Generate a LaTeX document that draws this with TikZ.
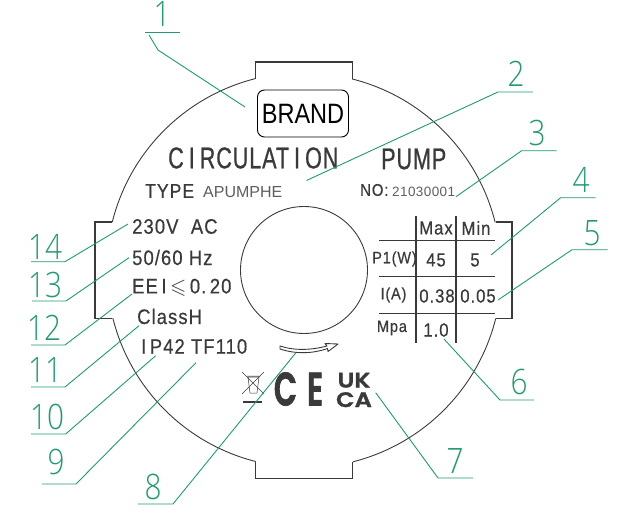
\documentclass[tikz,border=0pt]{standalone}
\usepackage{fontspec}
\usepackage{amssymb}
\setmainfont{Liberation Sans}
\newfontfamily\cadfont[FakeStretch=0.88,LetterSpace=5,FakeBold=0.5]{Liberation Sans}
\newfontfamily\titlefont[FakeStretch=0.72,LetterSpace=3,FakeBold=0.7]{Liberation Sans}
\newfontfamily\brandfont[FakeStretch=0.84]{Liberation Sans}
\newfontfamily\plainfont[LetterSpace=3]{Liberation Sans}
\newfontfamily\numfont[FakeStretch=0.85]{Open Sans Light}
\newfontfamily\markfont[FakeStretch=0.64,FakeBold=1.5]{Poppins SemiBold}
\newfontfamily\ukfont[FakeStretch=1.15,FakeBold=1.2]{Poppins SemiBold}
\definecolor{leadgreen}{HTML}{1F9B6E}
\definecolor{inkgrey}{HTML}{3A3A3A}
\definecolor{softgrey}{HTML}{5E5E5E}
\tikzset{
  body/.style={draw=inkgrey, line width=0.9pt},
  tabline/.style={draw=inkgrey, line width=1.2pt},
  leader/.style={draw=leadgreen, line width=0.9pt},
  num/.style={text=leadgreen, font=\numfont\fontsize{35}{35}\selectfont, inner sep=0pt},
  cad/.style={text=inkgrey, font=\cadfont\fontsize{21}{21}\selectfont, inner sep=0pt},
  cell/.style={text=inkgrey, font=\cadfont\fontsize{19}{19}\selectfont, inner sep=0pt},
  small/.style={text=inkgrey, font=\cadfont\fontsize{16.5}{16.5}\selectfont, inner sep=0pt}
}
\begin{document}
\begin{tikzpicture}[x=1pt,y=-1pt]
  \useasboundingbox (0,0) rectangle (638,511);

  % body with its four tabs
  \coordinate (hub) at (304,270);
  \draw[tabline] (255.7,79) -- (255.7,62) -- (352.3,62) -- (352.3,79);
  \draw[tabline] (495.7,222) -- (512,222) -- (512,318.5) -- (495.7,318.5);
  \draw[tabline] (255.7,461.5) -- (255.7,478.5) -- (352.3,478.5) -- (352.3,461.5);
  \draw[tabline] (112.3,222) -- (95,222) -- (95,318.5) -- (112.3,318.5);
  \draw[body] (352.3,79) arc (-75.8:-14:197);
  \draw[body] (495.7,318.5) arc (14:75.8:197);
  \draw[body] (255.7,461.5) arc (104.2:166:197);
  \draw[body] (112.3,222) arc (194:255.8:197);
  \draw[body] (hub) circle (63.5);

  \node[draw=black, line width=0.9pt, rounded corners=7pt, minimum width=91pt, minimum height=47pt, inner sep=0pt,
    font=\brandfont\fontsize{28}{28}\selectfont] (brand) at (303,113.5) {BRAND};

  % printed texts
  \node[cad, font=\titlefont\fontsize{30}{30}\selectfont, anchor=west] (title) at (168,158) {C\,I\,RCULAT\,I\,ON};
  \node[cad, font=\titlefont\fontsize{30}{30}\selectfont, anchor=west] (pump) at (381,159) {PUMP};
  \node[cad, font=\cadfont\fontsize{20}{20}\selectfont, anchor=west] (type) at (145,191) {TYPE};
  \node[text=softgrey, font=\fontsize{16}{16}\selectfont, anchor=west, inner sep=0pt] (model) at (203,192) {APUMPHE};
  \node[cad, font=\cadfont\fontsize{17}{17}\selectfont, anchor=west] (no) at (360,190) {NO:};
  \node[text=softgrey, font=\plainfont\fontsize{13.5}{13.5}\selectfont, anchor=west, inner sep=0pt] (serial) at (392,191.5) {21030001};
  \node[cad, anchor=west] (volt) at (132,226.5) {230V\ \ AC};
  \node[cad, anchor=west] (freq) at (132,257.5) {50/60 Hz};
  \node[cad, anchor=west] (eei) at (132,287.5) {EE\,I\,$\leqslant$\,0.\,20};
  \node[cad, anchor=west] (class) at (137,316.5) {ClassH};
  \node[cad, anchor=west] (ip) at (141,346.5) {I\,P42 TF110};

  % table
  \draw[tabline] (416,216) -- (416,343);
  \draw[tabline] (456,216) -- (456,343);
  \draw[tabline] (379,240.7) -- (495,240.7);
  \draw[tabline] (379,276.7) -- (495,276.7);
  \draw[tabline] (379,313.7) -- (495,313.7);
  \node[cell] (max) at (436,228) {Max};
  \node[cell] (min) at (476,228) {Min};
  \node[small] (p1) at (394.5,259) {P1(W)};
  \node[cell] (p45) at (436,260) {45};
  \node[cell] (p5) at (475,260) {5};
  \node[small] (amp) at (393.5,295) {I(A)};
  \node[cell] (i38) at (437,296) {0.38};
  \node[cell] (i05) at (478,296) {0.05};
  \node[small] (mpa) at (392,328) {Mpa};
  \node[cell] (press) at (436,330) {1.0};

  % rotation arrow
  \draw[inkgrey, line width=0.9pt, line join=round] (280,346) .. controls (295,351) and (312,350) .. (327,346)
    -- (325,343.5) -- (338,344) -- (328,351.5) -- (327.5,348.5) .. controls (312,354) and (295,354) .. (280,349) -- cycle;

  % marks
  \draw[inkgrey, line width=0.5pt] (242,372) -- (264,394) (242,394) -- (264,372);
  \draw[inkgrey, line width=0.5pt] (248,377) -- (250,393) -- (257,393) -- (259,377) -- cycle (247,376) -- (260,376);
  \draw[inkgrey, line width=1.3pt] (243,402) -- (262,402);
  \node[text=inkgrey, font=\markfont\fontsize{47}{47}\selectfont, inner sep=0pt] (ce) at (298.5,389) {C\hspace{10pt}E};
  \node[text=inkgrey, font=\ukfont\fontsize{21}{19.5}\selectfont, inner sep=0pt, align=center] (ukca) at (354,390) {UK\\CA};

  % leader numbers
  \node[num] (n1) at (162,14) {1};
  \node[num] (n2) at (516,74) {2};
  \node[num] (n3) at (537,133) {3};
  \node[num] (n4) at (581,180) {4};
  \node[num] (n5) at (592,233) {5};
  \node[num] (n6) at (519,382) {6};
  \node[num] (n7) at (455,461) {7};
  \node[num] (n8) at (153,487) {8};
  \node[num] (n9) at (56,462) {9};
  \node[num] (n10) at (47,417) {10};
  \node[num] (n11) at (45,370) {11};
  \node[num] (n12) at (44,328) {12};
  \node[num] (n13) at (45,285) {13};
  \node[num] (n14) at (45,247) {14};

  % leaders, free ends on named coordinates
  \coordinate (t1) at (245,107); \coordinate (t2) at (306.5,180.5); \coordinate (t3) at (456,196.7);
  \coordinate (t4) at (491,255); \coordinate (t5) at (498,300); \coordinate (t6) at (444,339);
  \coordinate (t7) at (375.7,392.7); \coordinate (t8) at (295.7,353); \coordinate (t9) at (196,362.7);
  \coordinate (t10) at (155.7,355.7); \coordinate (t11) at (139,325.7); \coordinate (t12) at (132,294);
  \coordinate (t13) at (129,257.7); \coordinate (t14) at (128,224);
  \draw[leader] (145,32) -- (180,32);
  \draw[leader] (149,35) -- (158,50) -- (t1);
  \draw[leader] (533,92) -- (498,92) -- (t2);
  \draw[leader] (556.7,150.7) -- (521.7,150.7) -- (t3);
  \draw[leader] (595.7,197.7) -- (560.7,197.7) -- (t4);
  \draw[leader] (607.7,249.7) -- (572,249.7) -- (t5);
  \draw[leader] (534,400) -- (500,400) -- (t6);
  \draw[leader] (473,478) -- (438,478) -- (t7);
  \draw[leader] (138,504) -- (173,504) -- (t8);
  \draw[leader] (42,484) -- (76,484) -- (t9);
  \draw[leader] (31,434) -- (65.7,434) -- (t10);
  \draw[leader] (31,387) -- (65,387) -- (t11);
  \draw[leader] (31,345) -- (65,345) -- (t12);
  \draw[leader] (32,301) -- (66,301) -- (t13);
  \draw[leader] (31,261.7) -- (65,261.7) -- (t14);
\end{tikzpicture}
\end{document}
